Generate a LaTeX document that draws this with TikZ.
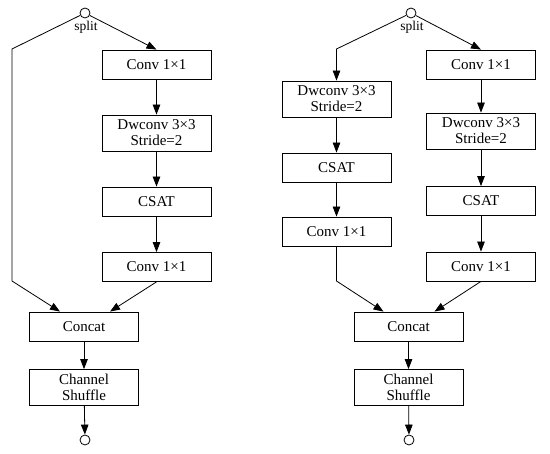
\documentclass[tikz,border=0pt]{standalone}
\usepackage{fontspec}
\setmainfont{Liberation Serif}
\usetikzlibrary{arrows.meta}
\begin{document}
\begin{tikzpicture}[x=1pt,y=-1pt, line width=0.8pt,
 blk/.style={draw, minimum width=109pt, minimum height=29pt, inner sep=0pt, font=\fontsize{15}{16}\selectfont, align=center},
 tall/.style={blk, minimum height=36pt},
 port/.style={draw, circle, minimum size=10pt, inner sep=0pt},
 arr/.style={-{Triangle[length=10pt,width=7.5pt]}},
 lbl/.style={font=\fontsize{13.5}{14}\selectfont, inner sep=0pt}]
\useasboundingbox (0,0) rectangle (550,454);
% left diagram
\node[port] (in1) at (85,13) {};
\node[lbl] (s1) at (86,27.5) {split};
\node[blk] (a1) at (156.5,64.5) {Conv 1×1};
\node[tall] (a2) at (156.5,133) {Dwconv 3×3\\Stride=2};
\node[blk] (a3) at (156.5,201.5) {CSAT};
\node[blk] (a4) at (156.5,267) {Conv 1×1};
\node[blk] (c1) at (84,326.5) {Concat};
\node[tall] (sh1) at (84,387.5) {Channel\\Shuffle};
\node[port] (out1) at (85,440) {};
\coordinate (l1) at (12,49);
\coordinate (l2) at (12,281);
\draw[arr] (in1) -- (l1) -- (l2) -- ([xshift=-24pt]c1.north);
\draw[arr] (in1) -- (a1.north);
\draw[arr] (a1) -- (a2);
\draw[arr] (a2) -- (a3);
\draw[arr] (a3) -- (a4);
\draw[arr] (a4.south) -- ([xshift=26pt]c1.north);
\draw[arr] (c1) -- (sh1);
\draw[arr] (sh1) -- (out1);
% right diagram
\node[port] (in2) at (411,13) {};
\node[lbl] (s2) at (412,27.5) {split};
\node[tall] (b1) at (336.5,99) {Dwconv 3×3\\Stride=2};
\node[blk] (b2) at (336.5,167.5) {CSAT};
\node[blk] (b3) at (336.5,231.5) {Conv 1×1};
\node[blk] (r1) at (481,64.5) {Conv 1×1};
\node[tall] (r2) at (481,131) {Dwconv 3×3\\Stride=2};
\node[blk] (r3) at (481,201) {CSAT};
\node[blk] (r4) at (481,266.5) {Conv 1×1};
\node[blk] (c2) at (408.5,326.5) {Concat};
\node[tall] (sh2) at (408.5,387.5) {Channel\\Shuffle};
\node[port] (out2) at (409,440) {};
\coordinate (m1) at (336.5,49);
\coordinate (m2) at (336.5,281);
\draw[arr] (in2) -- (m1) -- (b1.north);
\draw[arr] (b1) -- (b2);
\draw[arr] (b2) -- (b3);
\draw[arr] (b3.south) -- (m2) -- ([xshift=-25pt]c2.north);
\draw[arr] (in2) -- (r1.north);
\draw[arr] (r1) -- (r2);
\draw[arr] (r2) -- (r3);
\draw[arr] (r3) -- (r4);
\draw[arr] (r4.south) -- ([xshift=26pt]c2.north);
\draw[arr] (c2) -- (sh2);
\draw[arr] (sh2) -- (out2);
\end{tikzpicture}
\end{document}
